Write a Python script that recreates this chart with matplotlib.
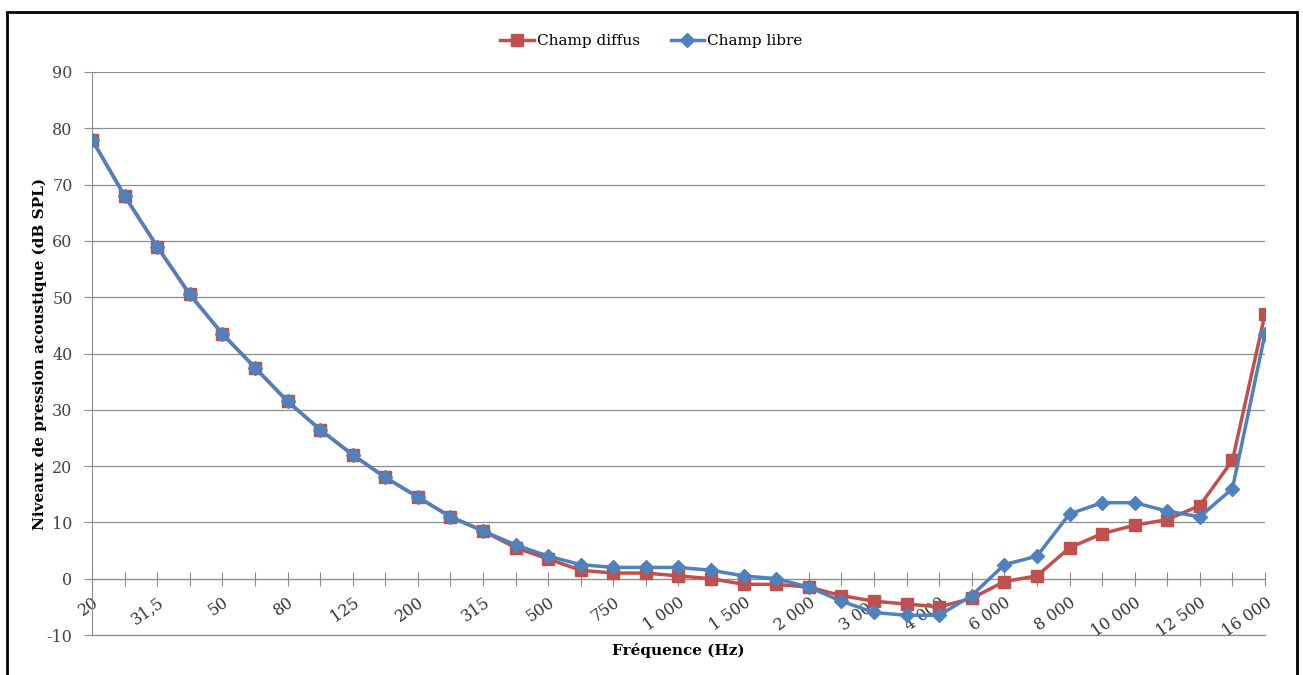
import matplotlib.pyplot as plt
from matplotlib.patches import Rectangle

# -------------------
# Data
# -------------------
frequencies = ["20", "25", "31,5", "40", "50", "63", "80", "100", "125", "160",
               "200", "250", "315", "400", "500", "630", "750", "800", "1 000", "1 250",
               "1 500", "1 600", "2 000", "2 500", "3 000", "3 150", "4 000", "5 000", "6 000", "6 300",
               "8 000", "9 000", "10 000", "11 200", "12 500", "14 000", "16 000"]
champ_diffus = [78, 68, 59, 50.5, 43.5, 37.5, 31.5, 26.5, 22, 18,
                14.5, 11, 8.5, 5.5, 3.5, 1.5, 1, 1, 0.5, 0,
                -1, -1, -1.5, -3, -4, -4.5, -5, -3.5, -0.5, 0.5,
                5.5, 8, 9.5, 10.5, 13, 21, 47]
champ_libre = [78, 68, 59, 50.5, 43.5, 37.5, 31.5, 26.5, 22, 18,
               14.5, 11, 8.5, 6, 4, 2.5, 2, 2, 2, 1.5,
               0.5, 0, -1.5, -4, -6, -6.5, -6.5, -3, 2.5, 4,
               11.5, 13.5, 13.5, 12, 11, 16, 43.5]

red = '#C0504D'
blue = '#4F81BD'
grey = '#8C8C8C'

plt.rcParams['font.family'] = ['DejaVu Serif']
plt.rcParams['axes.unicode_minus'] = False

W, H = 1303, 675
fig = plt.figure(figsize=(W / 100, H / 100), dpi=100)
ax = fig.add_axes([92 / W, (H - 635) / H, (1265 - 92) / W, (635 - 72) / H])

x = list(range(len(frequencies)))
ax.plot(x, champ_diffus, color=red, lw=2.5, marker='s', ms=9, label='Champ diffus', zorder=3)
ax.plot(x, champ_libre, color=blue, lw=2.5, marker='D', ms=7, label='Champ libre', zorder=4)

ax.set_xlim(0, len(frequencies) - 1)
ax.set_ylim(-10, 90)
ax.set_yticks(range(-10, 91, 10))
ax.grid(axis='y', color=grey, lw=0.9)
ax.axhline(-10, color=grey, lw=0.9, clip_on=False, zorder=0)
ax.set_axisbelow(True)

for s in ['top', 'right']:
    ax.spines[s].set_visible(False)
ax.spines['left'].set_color(grey)
ax.spines['bottom'].set_color(grey)
ax.spines['bottom'].set_position(('data', 0))

ax.set_xticks(x)
ax.set_xticklabels([f if i % 2 == 0 else '' for i, f in enumerate(frequencies)],
                   rotation=35, ha='right', rotation_mode='anchor')
ax.tick_params(axis='x', direction='inout', length=10, color=grey, labelsize=11.5,
               labelcolor='#333333', pad=6)
ax.tick_params(axis='y', direction='out', length=6, color=grey, labelsize=11.5,
               labelcolor='#444444', pad=8)

ax.set_xlabel('Fréquence (Hz)', fontsize=11, fontweight='bold')
ax.xaxis.set_label_coords(0.5, -0.015)
ax.set_ylabel('Niveaux de pression acoustique (dB SPL)', fontsize=11, fontweight='bold')
ax.yaxis.set_label_coords(-0.038, 0.5)

fig.legend(loc='upper center', bbox_to_anchor=(0.5, 0.97), ncol=2, frameon=False,
           fontsize=11, handlelength=2.2, handletextpad=0.2, columnspacing=2)

fig.patches.append(Rectangle((7 / W, -0.05), (1297 - 7) / W, 1.05 - 12 / H,
                             transform=fig.transFigure, fill=False, ec='black', lw=2))

fig.savefig('out.png', dpi=100)
